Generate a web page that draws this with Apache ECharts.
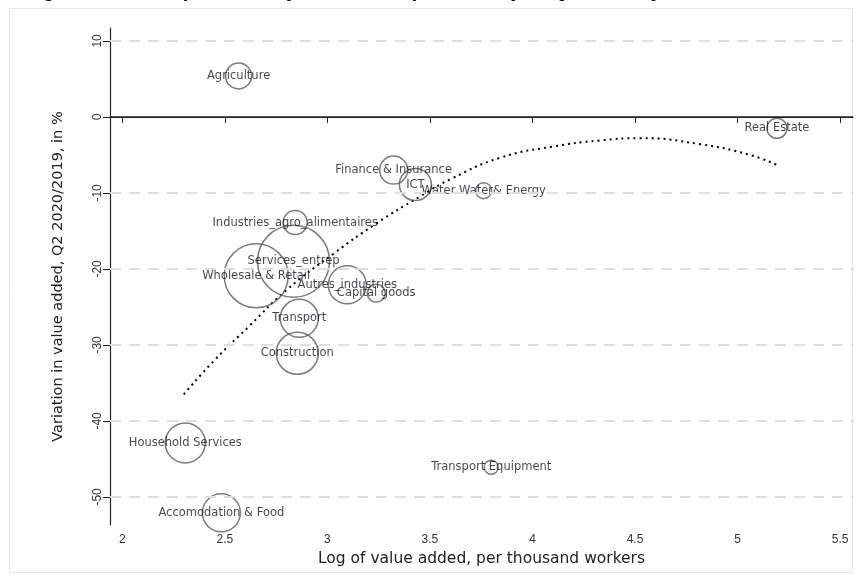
<!DOCTYPE html>
<html>
<head>
<meta charset="utf-8">
<title>Value added and productivity by sector</title>
<script src="https://cdn.jsdelivr.net/npm/echarts@6/dist/echarts.min.js"></script>
<style>
  html, body { margin: 0; padding: 0; background: #fff; }
  #chart { width: 859px; height: 577px; }
</style>
</head>
<body>
<div id="chart"></div>
<script>
// sectors
const sectors = ['Agriculture', 'Finance & Insurance', 'ICT', 'Water Water& Energy', 'Real Estate',
  'Industries_agro_alimentaires', 'Services_entrep', 'Wholesale & Retail', 'Autres_industries',
  'Capital goods', 'Transport', 'Construction', 'Household Services', 'Transport Equipment',
  'Accomodation & Food'];
const logVA = [2.567, 3.323, 3.429, 3.762, 5.192, 2.843, 2.835, 2.653, 3.097, 3.238, 2.863, 2.853, 2.307, 3.799, 2.483];
const variation = [5.4, -7.0, -8.9, -9.7, -1.5, -13.9, -19.0, -20.9, -22.1, -23.2, -26.5, -31.1, -42.9, -46.1, -52.1];
// employment weight (bubble area)
const weights = [16.9, 19.6, 25.6, 6.4, 10, 14.4, 129.6, 102.4, 36.1, 8.1, 36.1, 44.1, 40, 4.9, 36.1];

// fitted curve, points
const fitX = [2.30, 2.45, 2.62, 2.80, 3.03, 3.24, 3.45, 3.60, 3.84, 4.10, 4.33, 4.52, 4.82, 5.06, 5.19];
const fitY = [-36.5, -32.0, -27.5, -22.8, -18.0, -14.0, -10.5, -8.2, -5.4, -3.9, -3.1, -2.8, -3.6, -5.0, -6.3];

const xTicks = [2, 2.5, 3, 3.5, 4, 4.5, 5, 5.5];
const yTicks = [-50, -40, -30, -20, -10, 0, 10];

const chart = echarts.init(document.getElementById('chart'));

const points = sectors.map((s, i) => [logVA[i], variation[i], s, weights[i]]);
const curve = fitX.map((x, i) => [x, fitY[i]]);

const gridLines = yTicks.filter(v => v !== 0).map(v => ({ yAxis: v }));

const font = 'Liberation Sans, Arial, sans-serif';
const wide = 'DejaVu Sans, sans-serif';

const option = {
  animation: false,
  // title is cut off at the top of the picture, only the descenders show
  title: {
    text: 'Figure 2: Sector productivity and the drop in activity in Q2 2020, by sector',
    left: 20,
    top: -24,
    textStyle: { fontFamily: font, fontSize: 20, fontWeight: 'bold', color: '#000' }
  },
  graphic: [{
    type: 'rect',
    shape: { x: 9.5, y: 8.5, width: 843, height: 564 },
    style: { fill: 'none', stroke: '#e6e6e6', lineWidth: 1 },
    silent: true
  }],
  grid: { left: 110, right: 6, top: 28, bottom: 52 },
  xAxis: {
    type: 'value',
    min: 1.94,
    max: 5.563,
    name: 'Log of value added, per thousand workers',
    nameLocation: 'middle',
    nameGap: 24,
    nameTextStyle: { fontFamily: wide, fontSize: 15.5, color: '#222' },
    axisLine: { lineStyle: { color: '#222', width: 1.2 } },
    axisTick: { show: true, length: 6, customValues: xTicks, lineStyle: { color: '#222' } },
    axisLabel: { customValues: xTicks, margin: 9, fontFamily: font, fontSize: 12, color: '#333' },
    splitLine: { show: false }
  },
  yAxis: {
    type: 'value',
    min: -53.7,
    max: 11.7,
    name: 'Variation in value added, Q2 2020/2019, in %',
    nameLocation: 'middle',
    nameGap: 44,
    nameTextStyle: { fontFamily: wide, fontSize: 14.5, color: '#222' },
    axisLine: { show: true, lineStyle: { color: '#222', width: 1.2 } },
    axisTick: { show: true, length: 7, customValues: yTicks, lineStyle: { color: '#222' } },
    axisLabel: { customValues: yTicks, rotate: 90, margin: 6, fontFamily: font, fontSize: 12, color: '#333' },
    splitLine: { show: false }
  },
  series: [
    {
      // grid lines and zero line
      type: 'line',
      data: [],
      markLine: {
        silent: true,
        symbol: 'none',
        label: { show: false },
        data: [
          ...gridLines.map(d => ({ ...d, lineStyle: { color: '#dedede', width: 2, type: [11, 8] } })),
          { yAxis: 0, lineStyle: { color: '#222', width: 1.5, type: 'solid' } }
        ]
      }
    },
    {
      name: 'fit',
      type: 'line',
      data: curve,
      smooth: true,
      showSymbol: false,
      lineStyle: { color: '#000', width: 2, type: [2, 4] },
      z: 3
    },
    {
      name: 'sectors',
      type: 'scatter',
      data: points,
      symbol: 'circle',
      symbolSize: d => 2 * Math.sqrt(d[3] * 10),
      itemStyle: { color: 'rgba(0,0,0,0)', borderColor: '#5a5a5a', borderWidth: 1.5 },
      label: {
        show: true,
        position: 'inside',
        formatter: p => p.data[2],
        fontFamily: wide,
        fontSize: 11.5,
        color: '#15151f'
      },
      z: 4
    }
  ]
};

chart.setOption(option);
</script>
</body>
</html>
